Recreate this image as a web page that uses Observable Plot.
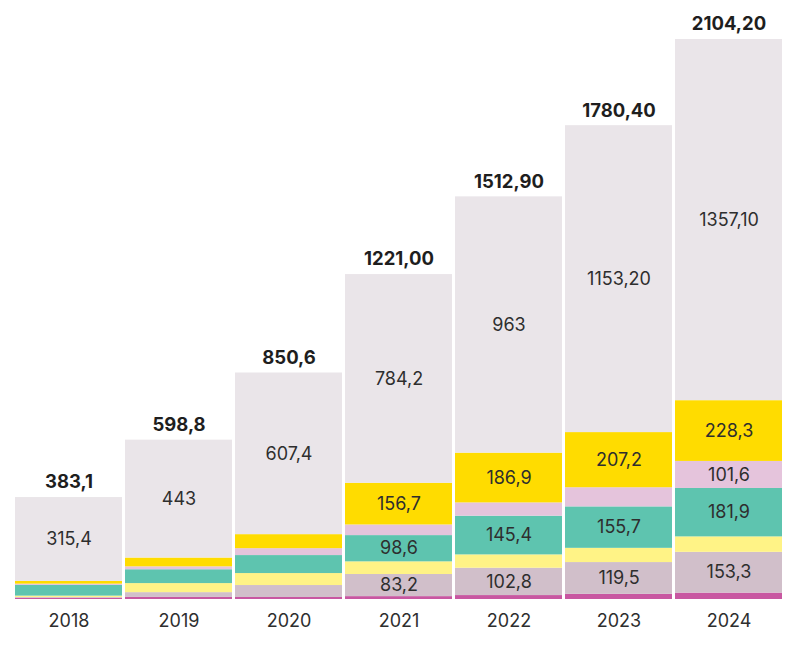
<!DOCTYPE html>
<html>
<head>
<meta charset="utf-8">
<script src="https://cdn.jsdelivr.net/npm/d3@7"></script>
<script src="https://cdn.jsdelivr.net/npm/@observablehq/plot@0.6"></script>
<style>
  html, body { margin: 0; padding: 0; background: #fff; }
  #chart { width: 793px; height: 645px; }
  svg { font-family: Inter, "Noto Sans", sans-serif; }
</style>
</head>
<body>
<div id="chart"></div>
<script>
const years = ["2018", "2019", "2020", "2021", "2022", "2023", "2024"];

// Series, bottom to top
const seriesNames = ["magenta", "mauve", "lightYellow", "teal", "pink", "yellow", "grey"];
const seriesColors = ["#C857A1", "#D1BFCA", "#FFF386", "#5EC4AF", "#E5C4DC", "#FFDC00", "#EAE5E9"];

const magenta     = [4.7, 7.8, 7.5, 10.8, 14.8, 19.3, 24];
const mauve       = [3, 18, 45, 83.2, 102.8, 119.5, 153.3];
const lightYellow = [5, 34, 45, 47.5, 50, 53.5, 58];
const teal        = [40, 52, 67.6, 98.6, 145.4, 155.7, 181.9];
const pink        = [5, 11, 26, 40, 50, 72, 101.6];
const yellow      = [10, 33, 52.6, 156.7, 186.9, 207.2, 228.3];
const grey        = [315.4, 443, 607.4, 784.2, 963, 1153.2, 1357.1];

const magentaLabels     = ["", "", "", "", "", "", ""];
const mauveLabels       = ["", "", "", "83,2", "102,8", "119,5", "153,3"];
const lightYellowLabels = ["", "", "", "", "", "", ""];
const tealLabels        = ["", "", "", "98,6", "145,4", "155,7", "181,9"];
const pinkLabels        = ["", "", "", "", "", "", "101,6"];
const yellowLabels      = ["", "", "", "156,7", "186,9", "207,2", "228,3"];
const greyLabels        = ["315,4", "443", "607,4", "784,2", "963", "1153,20", "1357,10"];

const totals      = [383.1, 598.8, 850.6, 1221.0, 1512.9, 1780.4, 2104.2];
const totalLabels = ["383,1", "598,8", "850,6", "1221,00", "1512,90", "1780,40", "2104,20"];

const seriesValues = [magenta, mauve, lightYellow, teal, pink, yellow, grey];
const seriesLabels = [magentaLabels, mauveLabels, lightYellowLabels, tealLabels, pinkLabels, yellowLabels, greyLabels];

const rows = [];
years.forEach((year, i) => {
  seriesNames.forEach((s, j) => {
    rows.push({year, series: s, value: seriesValues[j][i], label: seriesLabels[j][i]});
  });
});
const totalRows = years.map((year, i) => ({year, total: totals[i], label: totalLabels[i]}));

const chart = Plot.plot({
  width: 793,
  height: 645,
  marginLeft: 15,
  marginRight: 10,
  marginTop: 39,
  marginBottom: 46,
  style: {fontFamily: "Inter, 'Noto Sans', sans-serif", background: "#fff"},
  x: {domain: years, paddingInner: 0.027, paddingOuter: 0, label: null},
  y: {domain: [0, 2104.2], axis: null},
  color: {domain: seriesNames, range: seriesColors},
  marks: [
    Plot.barY(rows, {x: "year", y: "value", fill: "series", insetLeft: 0, insetRight: 0}),
    Plot.text(rows, Plot.stackY({x: "year", y: "value", text: "label", fill: "#2e2e2e", fontSize: 18})),
    Plot.text(totalRows, {x: "year", y: "total", text: "label", dy: -15, fill: "#1e1e1e", fontSize: 18.5, fontWeight: 700}),
    Plot.axisX({tickSize: 0, tickPadding: 15, fontSize: 18, color: "#2e2e2e", label: null})
  ]
});
document.getElementById("chart").appendChild(chart);
</script>
</body>
</html>
